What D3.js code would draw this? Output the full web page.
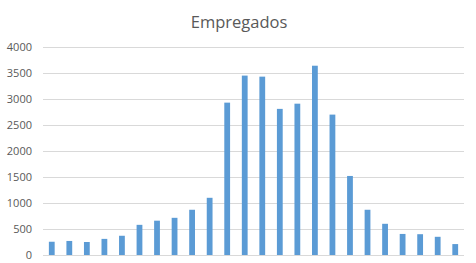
<!DOCTYPE html>
<html>
<head>
<meta charset="utf-8">
<script src="https://cdn.jsdelivr.net/npm/d3@7"></script>
<style>
	body { margin: 0; background: #fff; }
	svg { display: block; }
</style>
</head>
<body>
<svg id="chart" width="476" height="263"></svg>
<script>
var title = "Empregados";

// one bar per category (no category labels are shown on the chart)
var categories = d3.range(1, 25);
var values = [255, 270, 250, 310, 370, 580, 660, 715, 870, 1100, 2930, 3450,
	3430, 2810, 2910, 3640, 2700, 1520, 870, 600, 405, 400, 350, 210];
var yTicks = [0, 500, 1000, 1500, 2000, 2500, 3000, 3500, 4000];

var svg = d3.select("#chart"),
	margin = {top: 47, right: 12, bottom: 8, left: 43},
	width = +svg.attr("width") - margin.left - margin.right,
	height = +svg.attr("height") - margin.top - margin.bottom,
	g = svg.append("g").attr("transform", "translate(" + margin.left + "," + margin.top + ")");

var x = d3.scaleBand()
	.domain(categories)
	.range([0, width])
	.paddingInner(0.67)
	.paddingOuter(0.335);

var y = d3.scaleLinear()
	.domain([0, 4000])
	.range([height, 0]);

// gridlines
g.append("g")
	.selectAll("line")
	.data(yTicks)
	.enter().append("line")
	.attr("x1", 0)
	.attr("x2", width)
	.attr("y1", function(d) { return Math.round(y(d)) + 0.5; })
	.attr("y2", function(d) { return Math.round(y(d)) + 0.5; })
	.attr("stroke", "#d9d9d9")
	.attr("stroke-width", 1);

// y labels
var yAxis = g.append("g")
	.call(d3.axisLeft(y).tickValues(yTicks).tickFormat(d3.format("d")).tickSize(0).tickPadding(11));
yAxis.select(".domain").remove();
yAxis.selectAll("text")
	.attr("font-family", "'Open Sans', sans-serif")
	.attr("font-size", 11)
	.attr("fill", "#595959");

g.append("g")
	.selectAll("rect")
	.data(values)
	.enter().append("rect")
	.attr("x", function(d, i) { return x(categories[i]); })
	.attr("y", function(d) { return y(d); })
	.attr("width", x.bandwidth())
	.attr("height", function(d) { return height - y(d); })
	.attr("fill", "#5b9bd5");

svg.append("text")
	.attr("x", 239)
	.attr("y", 28)
	.attr("text-anchor", "middle")
	.attr("font-family", "'Open Sans', sans-serif")
	.attr("font-size", 16.5)
	.attr("fill", "#595959")
	.text(title);
</script>
</body>
</html>
